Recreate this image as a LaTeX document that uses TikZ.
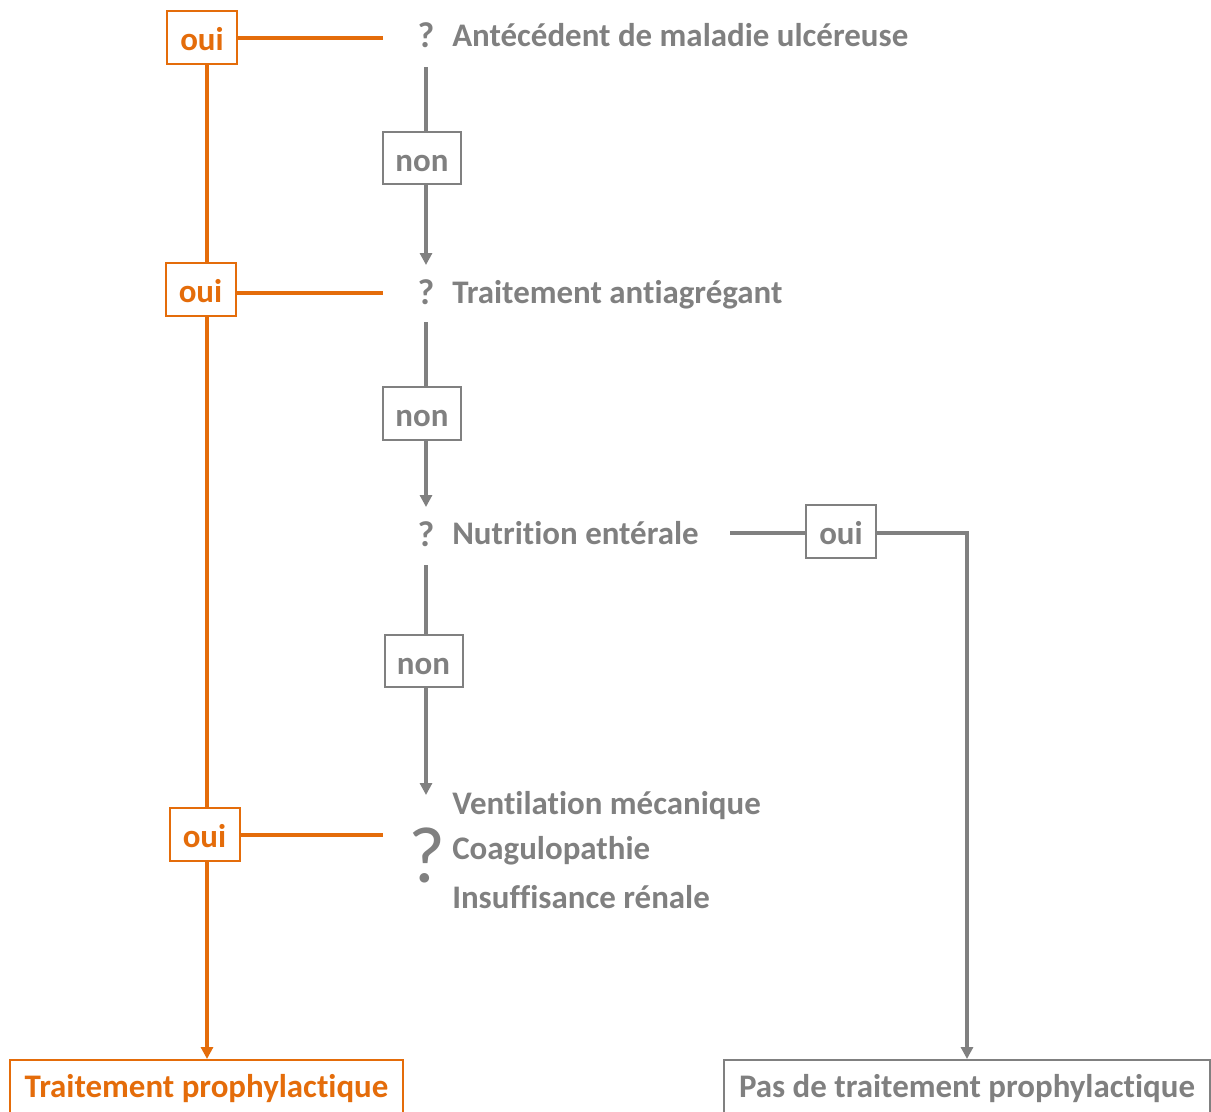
\documentclass[tikz,border=0pt]{standalone}
\usepackage{fontspec}
\setmainfont{Carlito}[Ligatures=NoCommon]
\usetikzlibrary{arrows.meta}
\definecolor{org}{HTML}{E46C0A}
\definecolor{gry}{HTML}{808080}
\begin{document}
\begin{tikzpicture}[x=0.75pt,y=-0.75pt,
  fnt/.style={font=\bfseries\fontsize{24.7}{28}\selectfont},
  lbl/.style={fnt, text=gry, inner sep=0pt, anchor=base west},
  qm/.style={font=\bfseries\fontsize{27}{30}\selectfont, text=gry, inner sep=0pt, anchor=base},
  boxbase/.style={fnt, line width=1.5pt, inner sep=0pt, text height=19.5pt, text depth=0pt},
  ybox/.style={boxbase, draw=org, text=org, minimum width=52.5pt, minimum height=39.75pt},
  nbox/.style={boxbase, draw=gry, text=gry, minimum width=58.5pt, minimum height=39.5pt},
  gbox/.style={boxbase, draw=gry, text=gry, minimum width=52.5pt, minimum height=39.75pt},
  oline/.style={draw=org, line width=2.5pt},
  gline/.style={draw=gry, line width=2.5pt},
  tip/.style={-{Triangle[width=9pt,length=9pt]}},
]
\useasboundingbox (0,0) rectangle (1211,1111);
\clip (0,0) rectangle (1211,1111);

% question marks and labels
\node[qm] (q1) at (426,47) {?};
\node[lbl] (t1) at (452,46) {Antécédent de maladie ulcéreuse};
\node[qm] (q2) at (426,304) {?};
\node[lbl] (t2) at (452,303) {Traitement antiagrégant};
\node[qm] (q3) at (426,546) {?};
\node[lbl] (t3) at (452,544) {Nutrition entérale};
\node[font=\fontsize{60}{62}\selectfont, text=gry, inner sep=0pt, anchor=base] (q4) at (427,882) {?};
\node[lbl] (t4) at (452,814) {Ventilation mécanique};
\node[lbl] (t5) at (452,859) {Coagulopathie};
\node[lbl] (t6) at (452,908) {Insuffisance rénale};

% yes/no boxes
\node[ybox] (o1) at (202,37.5) {oui};
\node[ybox] (o2) at (200.5,289.5) {oui};
\node[ybox] (o3) at (204.5,834.5) {oui};
\node[gbox] (o4) at (841,531.5) {oui};
\node[nbox] (n1) at (422,158) {non};
\node[nbox] (n2) at (422,413.5) {non};
\node[nbox] (n3) at (423.5,661) {non};

% outcome boxes
\node[fnt, draw=org, line width=1.5pt, text=org, anchor=north, minimum width=294.75pt,
      inner ysep=0pt, text height=27.75pt, text depth=20pt] (bl) at (206.5,1059) {Traitement prophylactique};
\node[fnt, draw=gry, line width=1.5pt, text=gry, anchor=north, minimum width=364.5pt,
      inner ysep=0pt, text height=27.75pt, text depth=20pt] (br) at (967,1059) {Pas de traitement prophylactique};

% helper coordinates
\coordinate (vx) at (207,0);
\coordinate (gx) at (426,0);
\coordinate (h1) at (383,38);
\coordinate (h2) at (383,293);
\coordinate (h3) at (383,835);
\coordinate (s1) at (426,67);
\coordinate (s2) at (426,322);
\coordinate (s3) at (426,565);
\coordinate (a1) at (426,265);
\coordinate (a2) at (426,507);
\coordinate (a3) at (426,795);
\coordinate (h4) at (730,533);

% orange connectors
\draw[oline] (o1.east |- h1) -- (h1);
\draw[oline] (o2.east |- h2) -- (h2);
\draw[oline] (o3.east |- h3) -- (h3);
\draw[oline] (o1.south -| vx) -- (o2.north -| vx);
\draw[oline] (o2.south -| vx) -- (o3.north -| vx);
\draw[oline, tip] (o3.south -| vx) -- (bl.north -| vx);

% gray connectors
\draw[gline] (s1) -- (n1.north -| gx);
\draw[gline, tip] (n1.south -| gx) -- (a1);
\draw[gline] (s2) -- (n2.north -| gx);
\draw[gline, tip] (n2.south -| gx) -- (a2);
\draw[gline] (s3) -- (n3.north -| gx);
\draw[gline, tip] (n3.south -| gx) -- (a3);
\draw[gline] (h4) -- (o4.west |- h4);
\draw[gline, tip] (o4.east |- h4) -| (br.north);
\end{tikzpicture}
\end{document}
